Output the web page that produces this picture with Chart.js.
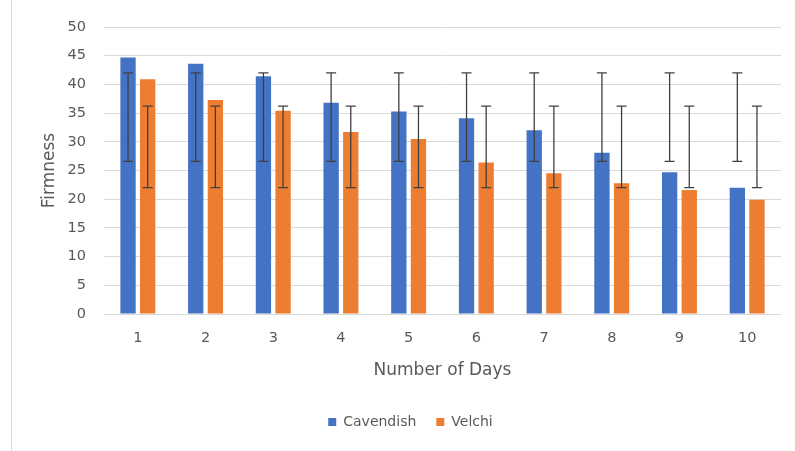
<!DOCTYPE html>
<html>
<head>
<meta charset="utf-8">
<script src="https://cdn.jsdelivr.net/npm/chart.js@4.4.1/dist/chart.umd.min.js"></script>
<style>
  html, body { margin: 0; padding: 0; background: #ffffff; }
  #wrap { position: relative; width: 795px; height: 451px; }
</style>
</head>
<body>
<div id="wrap"><canvas id="c" width="795" height="451"></canvas></div>
<script>
const days = ['1', '2', '3', '4', '5', '6', '7', '8', '9', '10'];
const cavendish = [44.7, 43.6, 41.4, 36.8, 35.3, 34.1, 32.0, 28.1, 24.7, 22.0];
const velchi = [40.9, 37.3, 35.4, 31.7, 30.5, 26.4, 24.5, 22.8, 21.6, 19.9];
const cavendishErrLow = [26.6, 26.6, 26.6, 26.6, 26.6, 26.6, 26.6, 26.6, 26.6, 26.6];
const cavendishErrHigh = [42.0, 42.0, 42.0, 42.0, 42.0, 42.0, 42.0, 42.0, 42.0, 42.0];
const velchiErrLow = [22.0, 22.0, 22.0, 22.0, 22.0, 22.0, 22.0, 22.0, 22.0, 22.0];
const velchiErrHigh = [36.2, 36.2, 36.2, 36.2, 36.2, 36.2, 36.2, 36.2, 36.2, 36.2];
const yTicks = [0, 5, 10, 15, 20, 25, 30, 35, 40, 45, 50];

const FONT = 'DejaVu Sans';
const TEXT = '#595959';

const errorBars = {
  id: 'errorBars',
  afterDatasetsDraw(chart) {
    const ctx = chart.ctx;
    const y = chart.scales.y;
    const sets = [[cavendishErrLow, cavendishErrHigh], [velchiErrLow, velchiErrHigh]];
    ctx.save();
    ctx.strokeStyle = '#404040';
    ctx.lineWidth = 1.3;
    sets.forEach((s, i) => {
      const meta = chart.getDatasetMeta(i);
      meta.data.forEach((bar, j) => {
        const x = bar.x;
        const yl = y.getPixelForValue(s[0][j]);
        const yh = y.getPixelForValue(s[1][j]);
        ctx.beginPath();
        ctx.moveTo(x, yl); ctx.lineTo(x, yh);
        ctx.moveTo(x - 5, yl); ctx.lineTo(x + 5, yl);
        ctx.moveTo(x - 5, yh); ctx.lineTo(x + 5, yh);
        ctx.stroke();
      });
    });
    ctx.restore();
  }
};

const frame = {
  id: 'frame',
  beforeDraw(chart) {
    const ctx = chart.ctx;
    ctx.save();
    ctx.strokeStyle = '#d9d9d9';
    ctx.lineWidth = 1;
    ctx.beginPath();
    ctx.moveTo(11.5, 0); ctx.lineTo(11.5, 451);
    ctx.stroke();
    ctx.restore();
  },
  afterLayout(chart) {
    if (chart.legend) { chart.legend.left += 20; chart.legend.right += 20; }
  }
};

new Chart(document.getElementById('c'), {
  type: 'bar',
  data: {
    labels: days,
    datasets: [
      { label: 'Cavendish', data: cavendish, backgroundColor: '#4472C4', categoryPercentage: 0.58, barPercentage: 0.78 },
      { label: 'Velchi', data: velchi, backgroundColor: '#ED7D31', categoryPercentage: 0.58, barPercentage: 0.78 }
    ]
  },
  options: {
    responsive: false,
    animation: false,
    devicePixelRatio: 1,
    layout: { padding: { top: 27, right: 14, bottom: 12, left: 0 } },
    plugins: {
      legend: {
        position: 'bottom',
        labels: {
          boxWidth: 8, boxHeight: 8, padding: 20,
          color: TEXT, font: { family: FONT, size: 14 }
        }
      },
      tooltip: { enabled: false }
    },
    scales: {
      x: {
        grid: { display: false, drawTicks: false },
        border: { display: false },
        ticks: { color: TEXT, font: { family: FONT, size: 14.5 }, padding: 16 },
        title: { display: true, text: 'Number of Days', color: TEXT, font: { family: FONT, size: 17 }, padding: { top: 0, bottom: 14 } },
        afterFit(scale) { scale.height = 81; }
      },
      y: {
        min: 0, max: 50,
        afterBuildTicks(scale) { scale.ticks = yTicks.map(v => ({ value: v })); },
        grid: { color: '#d9d9d9', drawTicks: false, lineWidth: 1 },
        border: { display: false },
        ticks: { color: TEXT, font: { family: FONT, size: 14.5 }, padding: 18 },
        title: { display: true, text: 'Firmness', color: TEXT, font: { family: FONT, size: 17 }, padding: { top: 39, bottom: 0 } },
        afterFit(scale) { scale.width = 104; }
      }
    }
  },
  plugins: [errorBars, frame]
});
</script>
</body>
</html>
